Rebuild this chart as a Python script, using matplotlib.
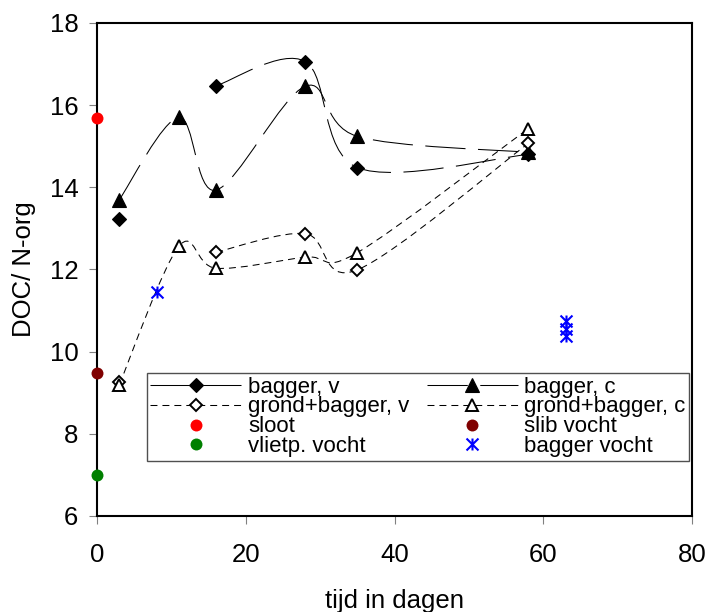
import numpy as np
import matplotlib.pyplot as plt
from matplotlib.path import Path
from matplotlib.patches import PathPatch
from matplotlib.lines import Line2D

plt.rcParams['font.family'] = ['Liberation Sans', 'DejaVu Sans']
plt.rcParams['lines.scale_dashes'] = False

# meetdagen en DOC/N-org verhouding per behandeling
dagen = [3, 11, 16, 28, 35, 58]
bagger_v = [13.22, np.nan, 16.47, 17.06, 14.48, 14.80]
bagger_c = [13.70, 15.70, 13.93, 16.46, 15.24, 14.85]
grond_bagger_v = [9.27, np.nan, 12.42, 12.87, 11.99, 15.07]
grond_bagger_c = [9.20, 12.56, 12.03, 12.30, 12.41, 15.43]

# losse metingen
sloot_dag, sloot = [0], [15.68]
slib_dag, slib_vocht = [0], [9.47]
vlietp_dag, vlietp_vocht = [0], [7.0]
bagger_vocht_dag = [8, 63, 63, 63]
bagger_vocht = [11.45, 10.75, 10.55, 10.38]

LANG_STREEP = (0, (29, 9))
KORT_STREEP = (0, (5, 3.6))

# asterisk marker: vertical bar plus a cross
ster = Path([(0, -1), (0, 1), (-1, -1), (1, 1), (-1, 1), (1, -1)],
            [Path.MOVETO, Path.LINETO, Path.MOVETO, Path.LINETO,
             Path.MOVETO, Path.LINETO])


def glad_pad(xs, ys):
    """Bezier curve through the points, like a smoothed line in a spreadsheet."""
    p = np.column_stack([xs, ys]).astype(float)
    verts = [p[0]]
    codes = [Path.MOVETO]
    n = len(p)
    for i in range(n - 1):
        p0 = p[i - 1] if i > 0 else p[i]
        p1, p2 = p[i], p[i + 1]
        p3 = p[i + 2] if i + 2 < n else p[i + 1]
        verts += [p1 + (p2 - p0) / 6, p2 - (p3 - p1) / 6, p2]
        codes += [Path.CURVE4] * 3
    return Path(verts, codes)


def teken_lijn(ax, xs, ys, ls):
    # break the line where a value is missing
    stuk_x, stuk_y = [], []
    for x, y in list(zip(xs, ys)) + [(np.nan, np.nan)]:
        if np.isnan(y):
            if len(stuk_x) > 1:
                ax.add_patch(PathPatch(glad_pad(stuk_x, stuk_y), fill=False,
                                       edgecolor='black', linewidth=0.75,
                                       linestyle=ls, zorder=2))
            stuk_x, stuk_y = [], []
        else:
            stuk_x.append(x)
            stuk_y.append(y)


fig = plt.figure(figsize=(7.07, 6.12), dpi=100)
ax = fig.add_axes([0.1372, 0.1569, 0.8416, 0.8056])

teken_lijn(ax, dagen, bagger_v, LANG_STREEP)
teken_lijn(ax, dagen, bagger_c, LANG_STREEP)
teken_lijn(ax, dagen, grond_bagger_v, KORT_STREEP)
teken_lijn(ax, dagen, grond_bagger_c, KORT_STREEP)

stijl = {
    'bagger, v': dict(marker='D', ms=6.8, mfc='black', mec='black', mew=0.8, ls=LANG_STREEP),
    'bagger, c': dict(marker='^', ms=9.4, mfc='black', mec='black', mew=0.8, ls=LANG_STREEP),
    'grond+bagger, v': dict(marker='D', ms=6.2, mfc='white', mec='black', mew=1.4, ls=KORT_STREEP),
    'grond+bagger, c': dict(marker='^', ms=8.8, mfc='white', mec='black', mew=1.4, ls=KORT_STREEP),
    'sloot': dict(marker='o', ms=8.6, mfc='#ff0000', mec='#ff0000', mew=0, ls='none'),
    'slib vocht': dict(marker='o', ms=8.6, mfc='#800000', mec='#800000', mew=0, ls='none'),
    'vlietp. vocht': dict(marker='o', ms=8.6, mfc='#008000', mec='#008000', mew=0, ls='none'),
    'bagger vocht': dict(marker=ster, ms=8.6, mfc='none', mec='#0000ff', mew=1.5, ls='none'),
}

reeksen = [
    ('bagger, v', dagen, bagger_v),
    ('bagger, c', dagen, bagger_c),
    ('grond+bagger, v', dagen, grond_bagger_v),
    ('grond+bagger, c', dagen, grond_bagger_c),
    ('sloot', sloot_dag, sloot),
    ('slib vocht', slib_dag, slib_vocht),
    ('vlietp. vocht', vlietp_dag, vlietp_vocht),
    ('bagger vocht', bagger_vocht_dag, bagger_vocht),
]
for naam, x, y in reeksen:
    s = dict(stijl[naam])
    s.pop('ls')
    ax.plot(x, y, ls='none', clip_on=False, zorder=4, **s)

ax.set_xlim(0, 80)
ax.set_ylim(6, 18)
ax.set_xticks(range(0, 81, 20))
ax.set_yticks(range(6, 19, 2))
for sp in ax.spines.values():
    sp.set_linewidth(1.5)
ax.tick_params(axis='both', direction='out', length=5.5, width=0.8,
               color='#808080', labelsize=18.5)
ax.tick_params(axis='x', pad=14)
ax.tick_params(axis='y', pad=8)
ax.set_xlabel('tijd in dagen', fontsize=18.5, labelpad=16)
ax.set_ylabel('DOC/ N-org', fontsize=18.5, labelpad=10)

volgorde = ['bagger, v', 'grond+bagger, v', 'sloot', 'vlietp. vocht',
            'bagger, c', 'grond+bagger, c', 'slib vocht', 'bagger vocht']
handles = [Line2D([], [], color='black', linewidth=0.75, **stijl[n]) for n in volgorde]
leg = ax.legend(handles, volgorde, ncol=2, loc='upper left',
                bbox_to_anchor=(0.084, 0.1156, 0.911, 0.174), mode='expand',
                fontsize=16, handlelength=4.1, handletextpad=0.3,
                labelspacing=-0.05, borderpad=0.15, borderaxespad=0,
                fancybox=False, framealpha=1, edgecolor='#505050')
leg.get_frame().set_linewidth(1.0)

fig.savefig('out.png', dpi=100)
